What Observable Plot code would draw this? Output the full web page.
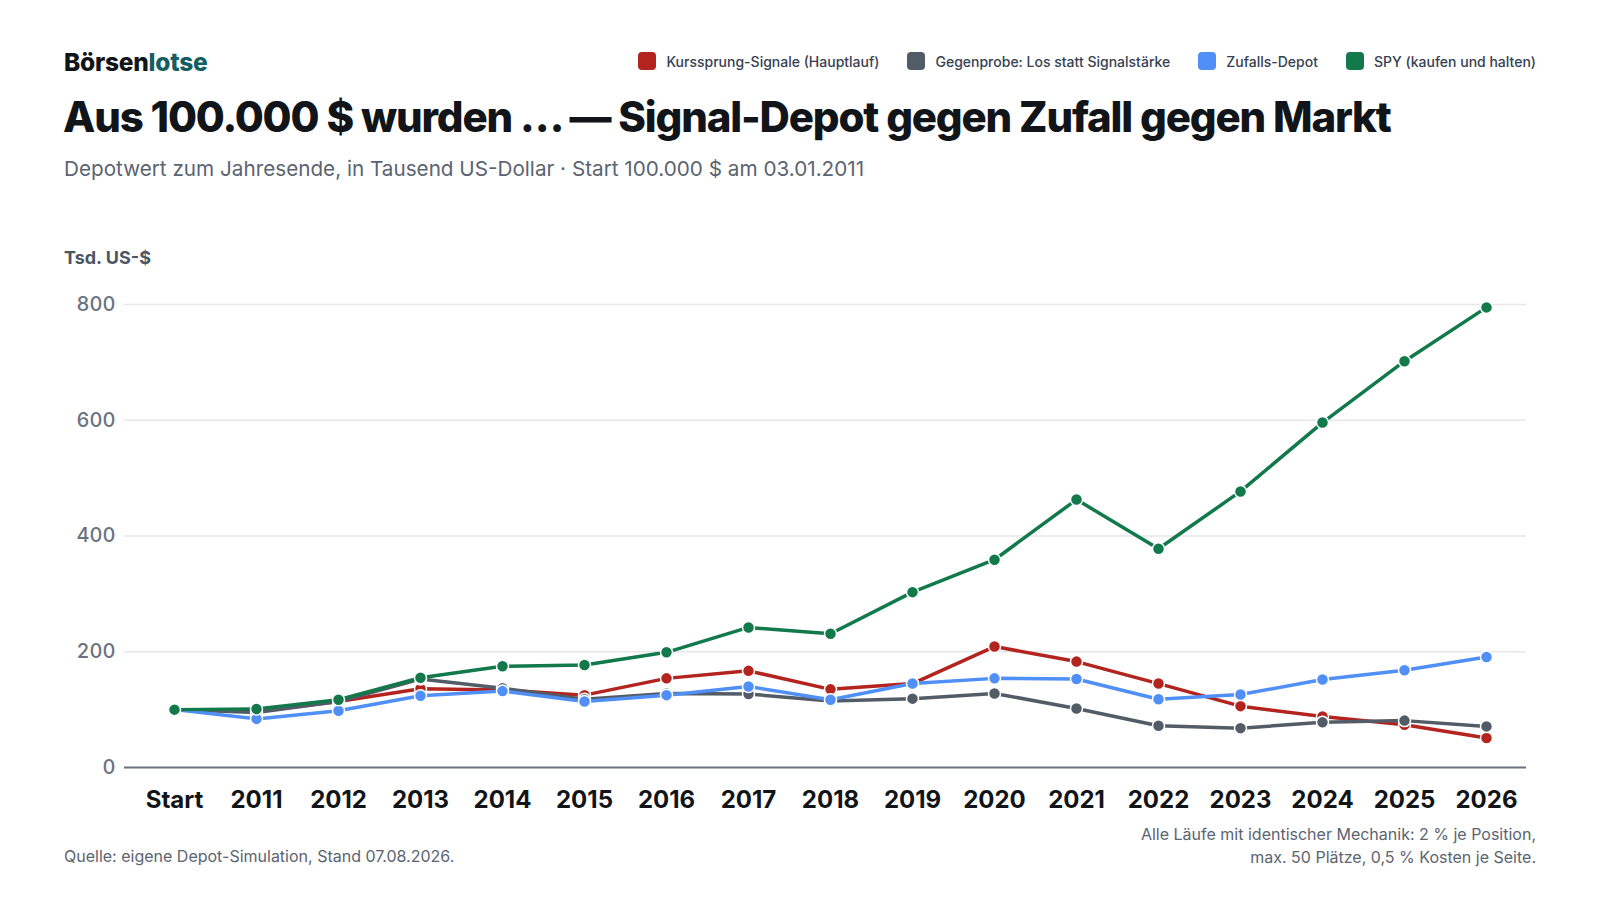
<!DOCTYPE html>
<html>
<head>
<meta charset="utf-8">
<script src="https://cdn.jsdelivr.net/npm/d3@7"></script>
<script src="https://cdn.jsdelivr.net/npm/@observablehq/plot@0.6"></script>
<style>
  html, body { margin: 0; padding: 0; background: #fff; }
  body { width: 1600px; height: 900px; position: relative; font-family: Inter, "Noto Sans", sans-serif; overflow: hidden; }
  .abs { position: absolute; white-space: nowrap; z-index: 2; }
  #logo { left: 64px; top: 47px; font-size: 24.5px; font-weight: 800; color: #111418; letter-spacing: -0.01em; }
  #logo span { color: #135e60; }
  #title { left: 63px; top: 91px; font-size: 42px; font-weight: 800; color: #111418; letter-spacing: -0.028em; }
  #subtitle { left: 64px; top: 156px; font-size: 20.7px; font-weight: 400; color: #5b6470; }
  #legend { right: 64px; top: 52px; display: flex; gap: 28px; font-size: 14px; font-weight: 500; color: #374151; }
  #legend .item { display: flex; align-items: center; gap: 10px; }
  #legend .sw { width: 18px; height: 18px; border-radius: 4px; display: inline-block; }
  #ylabel { left: 64px; top: 247px; font-size: 18px; font-weight: 700; color: #4b5563; }
  #chart { position: absolute; left: 0; top: 230px; z-index: 1; }
  #source { left: 64px; top: 846px; font-size: 16px; color: #5b6470; }
  #note { right: 64px; top: 823px; font-size: 16px; color: #5b6470; text-align: right; line-height: 23px; }
</style>
</head>
<body>
<div id="chart"></div>
<div id="logo" class="abs">Börsen<span>lotse</span></div>
<div id="legend" class="abs"></div>
<div id="title" class="abs">Aus 100.000 $ wurden … — Signal-Depot gegen Zufall gegen Markt</div>
<div id="subtitle" class="abs">Depotwert zum Jahresende, in Tausend US-Dollar · Start 100.000 $ am 03.01.2011</div>
<div id="ylabel" class="abs">Tsd. US-$</div>
<div id="source" class="abs">Quelle: eigene Depot-Simulation, Stand 07.08.2026.</div>
<div id="note" class="abs">Alle Läufe mit identischer Mechanik: 2 % je Position,<br>max. 50 Plätze, 0,5 % Kosten je Seite.</div>
<script>
const years = ["Start","2011","2012","2013","2014","2015","2016","2017","2018","2019","2020","2021","2022","2023","2024","2025","2026"];
const seriesNames = ["Kurssprung-Signale (Hauptlauf)", "Gegenprobe: Los statt Signalstärke", "Zufalls-Depot", "SPY (kaufen und halten)"];
const seriesColors = ["#b3241f", "#525c67", "#4f8ff7", "#12794b"];
const kurssprung = [100, 97, 114, 136, 134, 125, 154, 167, 135, 145, 209, 183, 145, 106, 88, 74, 51];
const gegenprobe = [100, 95, 114, 153, 137, 118, 128, 127, 115, 119, 128, 102, 72, 68, 78, 81, 71];
const zufall = [100, 84, 98, 124, 132, 114, 125, 140, 117, 145, 154, 153, 118, 126, 152, 168, 191];
const spy = [100, 101, 117, 155, 175, 177, 199, 242, 231, 303, 359, 463, 378, 477, 596, 702, 795];
const yTicks = [0, 200, 400, 600, 800];

const seriesValues = [kurssprung, gegenprobe, zufall, spy];
const data = seriesNames.flatMap((s, i) => years.map((y, j) => ({series: s, year: y, value: seriesValues[i][j]})));

// legend
const legend = document.getElementById("legend");
seriesNames.forEach((s, i) => {
  const it = document.createElement("div");
  it.className = "item";
  it.innerHTML = `<span class="sw" style="background:${seriesColors[i]}"></span><span>${s}</span>`;
  legend.appendChild(it);
});

const marks = [
  Plot.gridY(yTicks, {stroke: "#e5e7eb", strokeOpacity: 1, strokeWidth: 1.5}),
  Plot.ruleY([0], {stroke: "#6b7380", strokeWidth: 2}),
  Plot.axisY(yTicks, {tickSize: 0, tickPadding: 9, fontSize: 20, fontWeight: 500, fill: "#6b7380", label: null}),
  Plot.axisX({tickSize: 0, tickPadding: 23, fontSize: 24, fontWeight: 700, fill: "#111418", label: null})
];
seriesNames.forEach((s, i) => {
  const d = data.filter(r => r.series === s);
  marks.push(Plot.line(d, {x: "year", y: "value", stroke: seriesColors[i], strokeWidth: 3.5}));
  marks.push(Plot.dot(d, {x: "year", y: "value", fill: seriesColors[i], r: 6, stroke: "white", strokeWidth: 1.5}));
});

const chart = Plot.plot({
  width: 1600,
  height: 600,
  marginLeft: 124,
  marginRight: 74,
  marginTop: 74,
  marginBottom: 63,
  style: {fontFamily: "Inter, 'Noto Sans', sans-serif", background: "white"},
  x: {type: "point", domain: years, range: [167, 1492], padding: 0},
  y: {domain: [0, 800]},
  marks
});
document.getElementById("chart").appendChild(chart);
</script>
</body>
</html>
